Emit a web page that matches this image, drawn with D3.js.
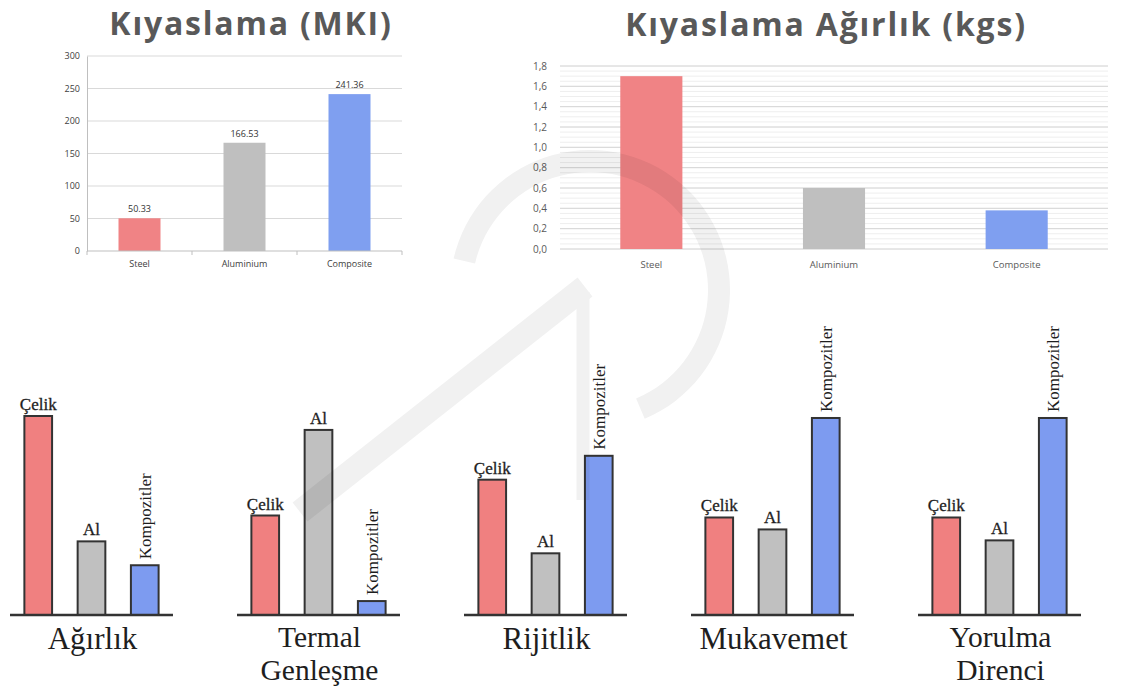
<!DOCTYPE html>
<html>
<head>
<meta charset="utf-8">
<script src="https://cdn.jsdelivr.net/npm/d3@7/dist/d3.min.js"></script>
<style>
  html, body { margin: 0; padding: 0; background: #ffffff; }
  svg { display: block; }
</style>
</head>
<body>
<script>
// ---- data ----
const materialCategories = ["Steel", "Aluminium", "Composite"];
const mkiValues = [50.33, 166.53, 241.36];
const mkiTicks = [0, 50, 100, 150, 200, 250, 300];
const weightValues = [1.7, 0.6, 0.38];
const weightTicks = [0, 0.2, 0.4, 0.6, 0.8, 1.0, 1.2, 1.4, 1.6, 1.8];

const propertyGroups = ["Ağırlık", "Termal Genleşme", "Rijitlik", "Mukavemet", "Yorulma Direnci"];
const propertyLabelLines = [["Ağırlık"], ["Termal", "Genleşme"], ["Rijitlik"], ["Mukavemet"], ["Yorulma", "Direnci"]];
const materialLabels = ["Çelik", "Al", "Kompozitler"];
const agirlikValues = [100, 37, 25];
const termalValues = [50, 93, 7];
const rijitlikValues = [68, 31, 80];
const mukavemetValues = [49, 43, 99];
const yorulmaValues = [49, 37.5, 99];
const propertyValues = [agirlikValues, termalValues, rijitlikValues, mukavemetValues, yorulmaValues];

const topColors = ["#f08385", "#bfbfbf", "#7f9ff0"];
const bottomColors = ["#f08080", "#c0c0c0", "#7d9bf0"];

const W = 1122, H = 694;
const svg = d3.select("body").append("svg").attr("width", W).attr("height", H);

const sans = "'Open Sans', 'Noto Sans', sans-serif";
const serif = "'Liberation Serif', 'DejaVu Serif', serif";

// ---- titles ----
svg.append("text").attr("x", 251).attr("y", 35).attr("text-anchor", "middle")
  .attr("font-family", sans).attr("font-weight", 700).attr("font-size", 32)
  .attr("letter-spacing", 1.8).attr("fill", "#595959").text("Kıyaslama (MKI)");
svg.append("text").attr("x", 826).attr("y", 36).attr("text-anchor", "middle")
  .attr("font-family", sans).attr("font-weight", 700).attr("font-size", 32)
  .attr("letter-spacing", 1.8).attr("fill", "#595959").text("Kıyaslama Ağırlık (kgs)");

// ---- MKI chart ----
const x1 = d3.scaleBand().domain(materialCategories).range([87, 402]).paddingInner(0.6).paddingOuter(0.3);
const y1 = d3.scaleLinear().domain([0, 300]).range([251, 56]);
const g1 = svg.append("g");

g1.selectAll("line.grid").data(mkiTicks.filter(t => t > 0)).join("line")
  .attr("class", "grid").attr("x1", 87).attr("x2", 402)
  .attr("y1", d => y1(d)).attr("y2", d => y1(d))
  .attr("stroke", "#d9d9d9").attr("stroke-width", 1);

const ax1 = g1.append("g").attr("transform", "translate(87,0)")
  .call(d3.axisLeft(y1).tickValues(mkiTicks).tickSize(0).tickPadding(7));
ax1.select(".domain").attr("stroke", "#bfbfbf");
ax1.selectAll("text").attr("font-family", sans).attr("font-size", 9).attr("fill", "#404040");

g1.selectAll("rect").data(mkiValues).join("rect")
  .attr("x", (d, i) => x1(materialCategories[i]))
  .attr("y", d => y1(d))
  .attr("width", x1.bandwidth())
  .attr("height", d => y1(0) - y1(d))
  .attr("fill", (d, i) => topColors[i]);

g1.append("line").attr("x1", 87).attr("x2", 402).attr("y1", y1(0)).attr("y2", y1(0))
  .attr("stroke", "#bfbfbf");
const bounds1 = materialCategories.map(c => x1(c) + x1.bandwidth() / 2 - x1.step() / 2)
  .concat([x1(materialCategories[2]) + x1.bandwidth() / 2 + x1.step() / 2]);
g1.selectAll("line.tk").data(bounds1).join("line").attr("class", "tk")
  .attr("x1", d => d).attr("x2", d => d).attr("y1", y1(0)).attr("y2", y1(0) + 4)
  .attr("stroke", "#bfbfbf");

const bx1 = g1.append("g").attr("transform", `translate(0,${y1(0)})`)
  .call(d3.axisBottom(x1).tickSize(0).tickPadding(10));
bx1.select(".domain").remove();
bx1.selectAll("text").attr("font-family", sans).attr("font-size", 9).attr("fill", "#404040");

g1.selectAll("text.val").data(mkiValues).join("text").attr("class", "val")
  .attr("x", (d, i) => x1(materialCategories[i]) + x1.bandwidth() / 2)
  .attr("y", d => y1(d) - 6).attr("text-anchor", "middle")
  .attr("font-family", sans).attr("font-size", 9).attr("fill", "#333")
  .text(d => d3.format(".2f")(d));

// ---- weight chart ----
const trLocale = d3.formatLocale({ decimal: ",", thousands: ".", grouping: [3], currency: ["", " ₺"] });
const fmtW = trLocale.format(".1f");
const x2 = d3.scaleBand().domain(materialCategories).range([560, 1108]).paddingInner(0.66).paddingOuter(0.33);
const y2 = d3.scaleLinear().domain([0, 1.8]).range([249, 66]);
const g2 = svg.append("g");

g2.selectAll("line.minor").data(y2.ticks(36)).join("line").attr("class", "minor")
  .attr("x1", 560).attr("x2", 1108).attr("y1", d => y2(d)).attr("y2", d => y2(d))
  .attr("stroke", "#eeeeee").attr("stroke-width", 1);
g2.selectAll("line.grid").data(weightTicks).join("line").attr("class", "grid")
  .attr("x1", 560).attr("x2", 1108).attr("y1", d => y2(d)).attr("y2", d => y2(d))
  .attr("stroke", "#d6d6d6").attr("stroke-width", 1);

const ax2 = g2.append("g").attr("transform", "translate(560,0)")
  .call(d3.axisLeft(y2).tickValues(weightTicks).tickFormat(fmtW).tickSize(0).tickPadding(13));
ax2.select(".domain").remove();
ax2.selectAll("text").attr("font-family", sans).attr("font-size", 10).attr("fill", "#595959");

g2.selectAll("rect").data(weightValues).join("rect")
  .attr("x", (d, i) => x2(materialCategories[i]))
  .attr("y", d => y2(d))
  .attr("width", x2.bandwidth())
  .attr("height", d => y2(0) - y2(d))
  .attr("fill", (d, i) => topColors[i]);

const bx2 = g2.append("g").attr("transform", `translate(0,${y2(0)})`)
  .call(d3.axisBottom(x2).tickSize(0).tickPadding(12));
bx2.select(".domain").remove();
bx2.selectAll("text").attr("font-family", sans).attr("font-size", 9.5).attr("fill", "#595959");

// ---- property comparison groups ----
const gx = d3.scaleBand().domain(propertyGroups).range([10, 1081]).paddingInner(0.282);
const ix = d3.scaleBand().domain(materialLabels).range([0, gx.bandwidth()]).paddingInner(0.48).paddingOuter(0.27);
const gy = d3.scaleLinear().domain([0, 100]).range([615, 416]);

propertyGroups.forEach((name, gi) => {
  const g = svg.append("g").attr("transform", `translate(${gx(name)},0)`);
  const vals = propertyValues[gi];

  g.selectAll("rect").data(vals).join("rect")
    .attr("x", (d, i) => ix(materialLabels[i]))
    .attr("y", d => gy(d))
    .attr("width", ix.bandwidth())
    .attr("height", d => gy(0) - gy(d))
    .attr("fill", (d, i) => bottomColors[i])
    .attr("stroke", "#333").attr("stroke-width", 2);

  g.append("line").attr("x1", 0).attr("x2", gx.bandwidth())
    .attr("y1", gy(0)).attr("y2", gy(0))
    .attr("stroke", "#333").attr("stroke-width", 2.5);

  vals.forEach((v, i) => {
    const cx = ix(materialLabels[i]) + ix.bandwidth() / 2;
    if (i < 2) {
      g.append("text").attr("x", cx).attr("y", gy(v) - 6).attr("text-anchor", "middle")
        .attr("font-family", serif).attr("font-size", 17).attr("fill", "#1e1e1e")
        .attr("stroke", "#1e1e1e").attr("stroke-width", 0.3)
        .text(materialLabels[i]);
    } else {
      g.append("text")
        .attr("transform", `translate(${cx + 6},${gy(v) - 6}) rotate(-90)`)
        .attr("text-anchor", "start")
        .attr("font-family", serif).attr("font-size", 17).attr("fill", "#1e1e1e")
        .text(materialLabels[i]);
    }
  });

  // group caption; two-line captions are set a little smaller
  const lines = propertyLabelLines[gi];
  const twoLine = lines.length > 1;
  const cap = g.append("text")
    .attr("x", gx.bandwidth() / 2 + 1).attr("y", twoLine ? 647 : 649)
    .attr("text-anchor", "middle")
    .attr("font-family", serif).attr("font-size", twoLine ? 29.5 : 31).attr("fill", "#1e1e1e");
  cap.selectAll("tspan").data(lines).join("tspan")
    .attr("x", gx.bandwidth() / 2 + 1)
    .attr("dy", (d, k) => k === 0 ? 0 : 33)
    .text(d => d);
});

// ---- faint logo watermark ----
const wm = svg.append("g").attr("opacity", 0.055);
wm.append("path")
  .attr("transform", "translate(590,290)")
  .attr("d", d3.arc().innerRadius(118).outerRadius(140)
    .startAngle(-77 * Math.PI / 180).endAngle(157 * Math.PI / 180)())
  .attr("fill", "#000");
wm.append("line").attr("x1", 300).attr("y1", 512).attr("x2", 585).attr("y2", 287)
  .attr("stroke", "#000").attr("stroke-width", 24);
wm.append("line").attr("x1", 583).attr("y1", 292).attr("x2", 583).attr("y2", 500)
  .attr("stroke", "#000").attr("stroke-width", 13);
</script>
</body>
</html>
